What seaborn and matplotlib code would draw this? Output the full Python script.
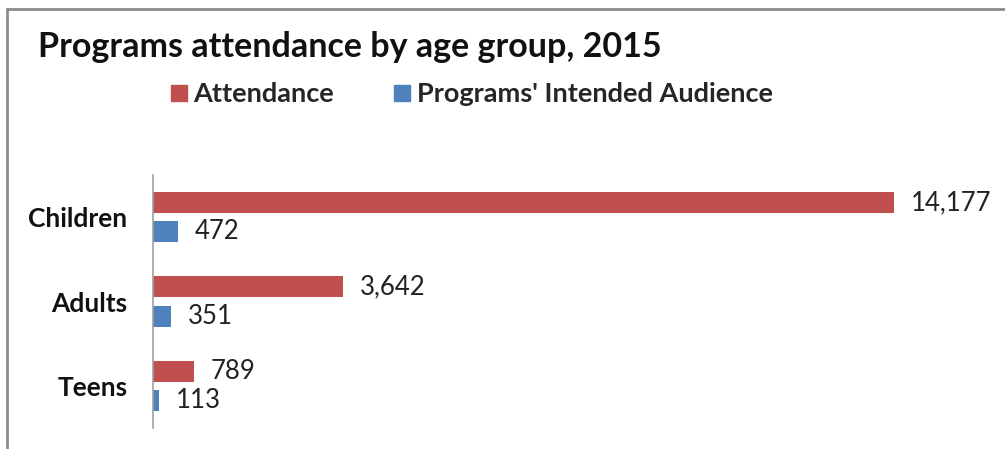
import matplotlib
matplotlib.use("Agg")
import matplotlib.pyplot as plt
from matplotlib.lines import Line2D
import seaborn as sns
import pandas as pd

# Programme data, 2015
age_groups = ["Children", "Adults", "Teens"]
attendance = [14177, 3642, 789]
intended_audience = [472, 351, 113]
series_names = ["Attendance", "Programs' Intended Audience"]
title = "Programs attendance by age group, 2015"

colors = ["#C0504D", "#4F81BD"]

sns.set_theme(style="white")
plt.rcParams["font.family"] = ["Lato", "DejaVu Sans"]

df = pd.DataFrame({
    "group": age_groups * 2,
    "value": attendance + intended_audience,
    "series": [series_names[0]] * len(age_groups) + [series_names[1]] * len(age_groups),
})

fig = plt.figure(figsize=(10.05, 4.49), dpi=100)
W, H = 1005, 449
ax = fig.add_axes([153 / W, 1 - 428 / H, 836 / W, (428 - 175) / H])

sns.barplot(data=df, y="group", x="value", hue="series", orient="h",
            order=age_groups, hue_order=series_names, palette=colors,
            width=0.69, gap=0.275, ax=ax, legend=False, saturation=1,
            edgecolor="none")

ax.set_xlim(0, 16000)
ax.set_ylim(2.5, -0.5)
ax.set_xlabel("")
ax.set_ylabel("")
ax.set_xticks([])
for side in ["top", "right", "bottom"]:
    ax.spines[side].set_visible(False)
ax.spines["left"].set_color("#A0A0A0")
ax.spines["left"].set_linewidth(1.2)
ax.tick_params(axis="y", length=0, pad=18.5, labelsize=19)
for lab in ax.get_yticklabels():
    lab.set_fontweight("bold")
    lab.set_color("#111111")

for cont in ax.containers:
    ax.bar_label(cont, labels=[f"{v:,.0f}" for v in cont.datavalues],
                 padding=12, fontsize=18.5, color="#222222")

fig.text(38 / W, 1 - 47 / H, title, fontsize=24.5, fontweight="bold",
         va="center", ha="left", color="#111111")

handles = [Line2D([0], [0], marker="s", linestyle="none", markersize=11,
                  markerfacecolor=c, markeredgecolor=c) for c in colors]
fig.legend(handles, series_names, loc="center left",
           bbox_to_anchor=(157 / W, 1 - 94 / H), ncol=2, frameon=False,
           handletextpad=0.25, columnspacing=2.2, borderpad=0,
           handlelength=0.6, prop={"weight": "bold", "size": 19.5})

# outer chart border (top and left edges)
fig.add_artist(Line2D([7 / W, 1], [1 - 9 / H, 1 - 9 / H], transform=fig.transFigure,
                      color="#8C8C8C", linewidth=2))
fig.add_artist(Line2D([7 / W, 7 / W], [0, 1 - 9 / H], transform=fig.transFigure,
                      color="#8C8C8C", linewidth=2))

fig.savefig("out.png", dpi=100)
